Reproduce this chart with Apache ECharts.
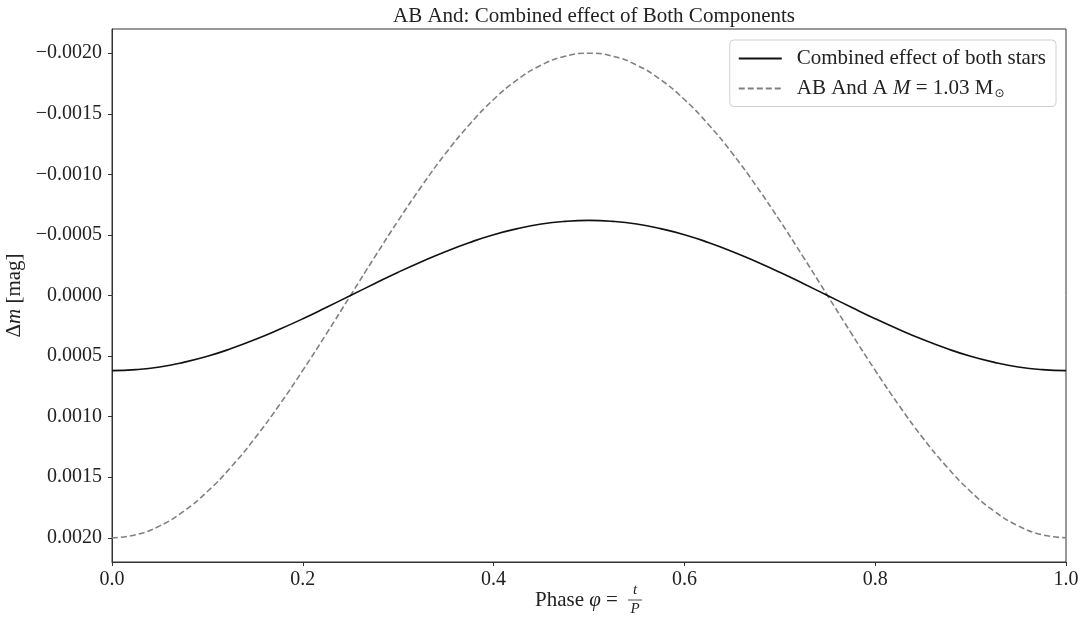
<!DOCTYPE html>
<html>
<head>
<meta charset="utf-8">
<script src="https://cdn.jsdelivr.net/npm/echarts@6/dist/echarts.min.js"></script>
<style>
  html, body { margin: 0; padding: 0; background: #fff; }
  #chart { width: 1084px; height: 624px; }
</style>
</head>
<body>
<div id="chart"></div>
<script>
// Orbital phase samples
const phase = [
  0.000, 0.025, 0.050, 0.075, 0.100, 0.125, 0.150, 0.175, 0.200, 0.225,
  0.250, 0.275, 0.300, 0.325, 0.350, 0.375, 0.400, 0.425, 0.450, 0.475,
  0.500, 0.525, 0.550, 0.575, 0.600, 0.625, 0.650, 0.675, 0.700, 0.725,
  0.750, 0.775, 0.800, 0.825, 0.850, 0.875, 0.900, 0.925, 0.950, 0.975,
  1.000
];

// Magnitude change of both stars together [mag]
const combined = [
  0.000620, 0.000612, 0.000590, 0.000552, 0.000502, 0.000438, 0.000364, 0.000281, 0.000192, 0.000097,
  0.000000, -0.000097, -0.000192, -0.000281, -0.000364, -0.000438, -0.000502, -0.000552, -0.000590, -0.000612,
  -0.000620, -0.000612, -0.000590, -0.000552, -0.000502, -0.000438, -0.000364, -0.000281, -0.000192, -0.000097,
  0.000000, 0.000097, 0.000192, 0.000281, 0.000364, 0.000438, 0.000502, 0.000552, 0.000590, 0.000612,
  0.000620
];

// Magnitude change of component A alone [mag]
const componentA = [
  0.002000, 0.001975, 0.001902, 0.001782, 0.001618, 0.001414, 0.001176, 0.000908, 0.000618, 0.000313,
  0.000000, -0.000313, -0.000618, -0.000908, -0.001176, -0.001414, -0.001618, -0.001782, -0.001902, -0.001975,
  -0.002000, -0.001975, -0.001902, -0.001782, -0.001618, -0.001414, -0.001176, -0.000908, -0.000618, -0.000313,
  0.000000, 0.000313, 0.000618, 0.000908, 0.001176, 0.001414, 0.001618, 0.001782, 0.001902, 0.001975,
  0.002000
];

const xTicks = [0.0, 0.2, 0.4, 0.6, 0.8, 1.0];
const yTicks = [-0.0020, -0.0015, -0.0010, -0.0005, 0.0, 0.0005, 0.0010, 0.0015, 0.0020];

const FONT = '"Liberation Serif", "DejaVu Serif", serif';
const AXIS = '#333';
const TEXT = '#222';

function pairs(ys) {
  return phase.map((x, i) => [x, ys[i]]);
}

function fmtY(v) {
  const s = Math.abs(v).toFixed(4);
  return v < 0 ? '\u2212' + s : s;
}

const chart = echarts.init(document.getElementById('chart'), null, { renderer: 'canvas' });

chart.setOption({
  backgroundColor: '#fff',
  animation: false,
  title: {
    text: 'AB And: Combined effect of Both Components',
    left: 589,
    top: 1,
    textAlign: 'center',
    textStyle: { fontFamily: FONT, fontSize: 21, fontWeight: 'normal', color: TEXT }
  },
  grid: {
    left: 112, right: 18, top: 29, bottom: 62,
    containLabel: false,
    outerBoundsMode: 'none',
    show: true,
    borderColor: AXIS,
    borderWidth: 1,
    backgroundColor: 'transparent'
  },
  legend: {
    orient: 'vertical',
    right: 28,
    top: 40,
    itemWidth: 43,
    itemHeight: 14,
    itemGap: 9,
    padding: [8, 10, 7, 8],
    borderColor: '#d0d0d0',
    borderWidth: 1,
    borderRadius: 4,
    backgroundColor: 'rgba(255,255,255,0.8)',
    itemStyle: { opacity: 0 },
    textStyle: {
      fontFamily: FONT, fontSize: 21, color: TEXT, padding: [0, 0, 0, 10],
      rich: {
        n: { fontFamily: FONT, fontSize: 21, color: TEXT },
        i: { fontFamily: FONT, fontSize: 21, fontStyle: 'italic', color: TEXT },
        s: { fontFamily: '"DejaVu Sans", sans-serif', fontSize: 12, color: TEXT, padding: [10, 0, 0, 1] }
      }
    },
    formatter: function (name) {
      if (name === 'A') return '{n|AB And A }{i|M}{n| = 1.03 M}{s|\u2299}';
      return name;
    },
    data: ['Combined effect of both stars', 'A']
  },
  xAxis: {
    type: 'value',
    min: 0,
    max: 1,
    axisLine: { show: true, onZero: false, lineStyle: { color: AXIS, width: 1 } },
    axisTick: { show: true, length: 4, inside: false, lineStyle: { color: AXIS }, customValues: xTicks },
    axisLabel: {
      fontFamily: FONT, fontSize: 20, color: TEXT, margin: 8,
      customValues: xTicks,
      formatter: v => v.toFixed(1)
    },
    splitLine: { show: false }
  },
  yAxis: {
    type: 'value',
    inverse: true,
    min: -0.0022,
    max: 0.0022,
    axisLine: { show: true, onZero: false, lineStyle: { color: AXIS, width: 1 } },
    axisTick: { show: true, length: 4, lineStyle: { color: AXIS }, customValues: yTicks },
    axisLabel: {
      fontFamily: FONT, fontSize: 20, color: TEXT, margin: 10,
      customValues: yTicks,
      formatter: fmtY
    },
    splitLine: { show: false },
    name: '{n|\u0394}{i|m}{n| [mag]}',
    nameLocation: 'middle',
    nameGap: 81,
    nameRotate: 90,
    nameTextStyle: {
      rich: {
        n: { fontFamily: FONT, fontSize: 21, color: TEXT },
        i: { fontFamily: FONT, fontSize: 21, fontStyle: 'italic', color: TEXT }
      }
    }
  },
  series: [
    {
      name: 'Combined effect of both stars',
      type: 'line',
      data: pairs(combined),
      smooth: true,
      symbol: 'none',
      lineStyle: { color: '#111', width: 1.6 },
      itemStyle: { color: '#111' },
      z: 3
    },
    {
      name: 'A',
      type: 'line',
      data: pairs(componentA),
      smooth: true,
      symbol: 'none',
      lineStyle: { color: '#808080', width: 1.6, type: [6, 3] },
      itemStyle: { color: '#808080' },
      z: 2
    }
  ],
  graphic: [
    {
      type: 'group',
      left: 535,
      top: 583,
      children: [
        {
          type: 'text',
          x: 0, y: 7,
          style: {
            text: '{n|Phase }{i|\u03c6}{n| = }',
            rich: {
              n: { fontFamily: FONT, fontSize: 21, fill: TEXT },
              i: { fontFamily: FONT, fontSize: 21, fontStyle: 'italic', fill: TEXT }
            }
          }
        },
        {
          type: 'text',
          x: 100, y: 0,
          style: { text: 't', fontFamily: FONT, fontSize: 15, fontStyle: 'italic', fill: TEXT, textAlign: 'center' }
        },
        {
          type: 'line',
          shape: { x1: 93, y1: 17, x2: 107, y2: 17 },
          style: { stroke: TEXT, lineWidth: 0.8 }
        },
        {
          type: 'text',
          x: 100, y: 19,
          style: { text: 'P', fontFamily: FONT, fontSize: 15, fontStyle: 'italic', fill: TEXT, textAlign: 'center' }
        }
      ]
    }
  ]
});
</script>
</body>
</html>
